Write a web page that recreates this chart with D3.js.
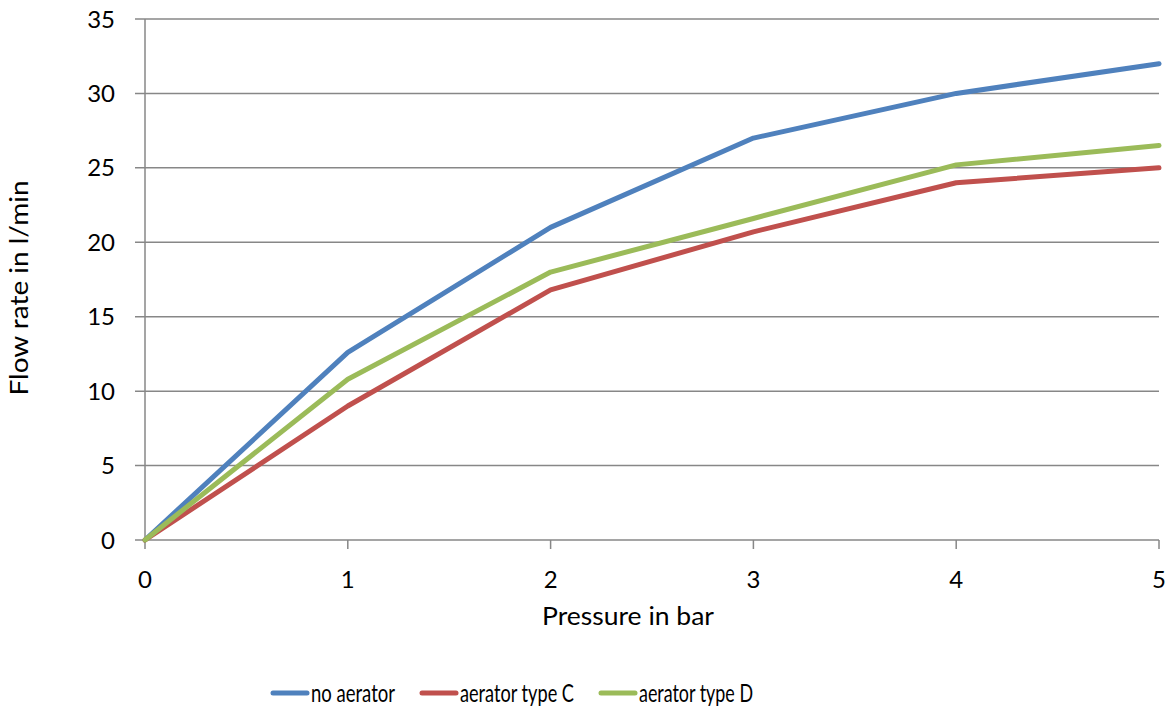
<!DOCTYPE html>
<html>
<head>
<meta charset="utf-8">
<script src="https://d3js.org/d3.v7.min.js"></script>
<style>
  body { margin: 0; background: #fff; }
  svg text { font-family: Lato, "Open Sans", sans-serif; fill: #000; }
</style>
</head>
<body>
<div id="chart"></div>
<script>
// data
const pressure = [0, 1, 2, 3, 4, 5];
const seriesNames = ["no aerator", "aerator type C", "aerator type D"];
const noAerator = [0, 12.6, 21, 27, 30, 32];
const typeC = [0, 9, 16.8, 20.7, 24, 25];
const typeD = [0, 10.8, 18, 21.6, 25.2, 26.5];
const colors = ["#4F81BD", "#C0504D", "#9BBB59"];
const yTicks = [0, 5, 10, 15, 20, 25, 30, 35];

const W = 1171, H = 710;
const margin = {top: 19, right: 12, bottom: 170, left: 145};

const svg = d3.select("#chart").append("svg")
  .attr("width", W)
  .attr("height", H);

const x = d3.scaleLinear().domain([0, 5]).range([margin.left, W - margin.right]);
const y = d3.scaleLinear().domain([0, 35]).range([H - margin.bottom, margin.top]);

// horizontal gridlines (they run past the axis as tick marks)
svg.append("g")
  .selectAll("line")
  .data(yTicks)
  .join("line")
    .attr("x1", margin.left - 10)
    .attr("x2", x(5))
    .attr("y1", d => y(d))
    .attr("y2", d => y(d))
    .attr("stroke", "#878787")
    .attr("stroke-width", 1.5);

// y axis line
svg.append("line")
  .attr("x1", x(0)).attr("x2", x(0))
  .attr("y1", y(35)).attr("y2", y(0))
  .attr("stroke", "#878787").attr("stroke-width", 1.5);

// x tick marks
svg.append("g")
  .selectAll("line")
  .data(pressure)
  .join("line")
    .attr("x1", d => x(d)).attr("x2", d => x(d))
    .attr("y1", y(0)).attr("y2", y(0) + 9)
    .attr("stroke", "#878787").attr("stroke-width", 1.5);

// y tick labels
svg.append("g")
  .selectAll("text")
  .data(yTicks)
  .join("text")
    .attr("x", margin.left - 30)
    .attr("y", d => y(d))
    .attr("dy", "0.36em")
    .attr("text-anchor", "end")
    .style("font-size", "24px")
    .text(d => d);

// x tick labels
svg.append("g")
  .selectAll("text")
  .data(pressure)
  .join("text")
    .attr("x", d => x(d))
    .attr("y", y(0) + 48)
    .attr("text-anchor", "middle")
    .style("font-size", "24px")
    .text(d => d);

// axis titles
svg.append("text")
  .attr("x", 628)
  .attr("y", y(0) + 85)
  .attr("text-anchor", "middle")
  .attr("textLength", 172)
  .attr("lengthAdjust", "spacingAndGlyphs")
  .style("font-size", "25px")
  .text("Pressure in bar");

svg.append("text")
  .attr("transform", `translate(${28}, ${288}) rotate(-90)`)
  .attr("text-anchor", "middle")
  .attr("textLength", 215)
  .attr("lengthAdjust", "spacingAndGlyphs")
  .style("font-size", "25px")
  .text("Flow rate in l/min");

// lines
const line = d3.line()
  .x((d, i) => x(pressure[i]))
  .y(d => y(d));

const allSeries = [noAerator, typeC, typeD];
svg.append("g")
  .selectAll("path")
  .data(allSeries)
  .join("path")
    .attr("d", line)
    .attr("fill", "none")
    .attr("stroke", (d, i) => colors[i])
    .attr("stroke-width", 5)
    .attr("stroke-linejoin", "round")
    .attr("stroke-linecap", "round");

// legend (text is squeezed in the original)
const legendX = [273, 422, 601];
const legendTextW = [84, 114, 114];
const legend = svg.append("g")
  .selectAll("g")
  .data(seriesNames)
  .join("g")
    .attr("transform", (d, i) => `translate(${legendX[i]}, ${693})`);

legend.append("line")
  .attr("x1", 0).attr("x2", 34)
  .attr("stroke", (d, i) => colors[i])
  .attr("stroke-width", 5)
  .attr("stroke-linecap", "round");

legend.append("text")
  .attr("x", 38)
  .attr("dy", "0.36em")
  .attr("textLength", (d, i) => legendTextW[i])
  .attr("lengthAdjust", "spacingAndGlyphs")
  .style("font-size", "25px")
  .text(d => d);
</script>
</body>
</html>
